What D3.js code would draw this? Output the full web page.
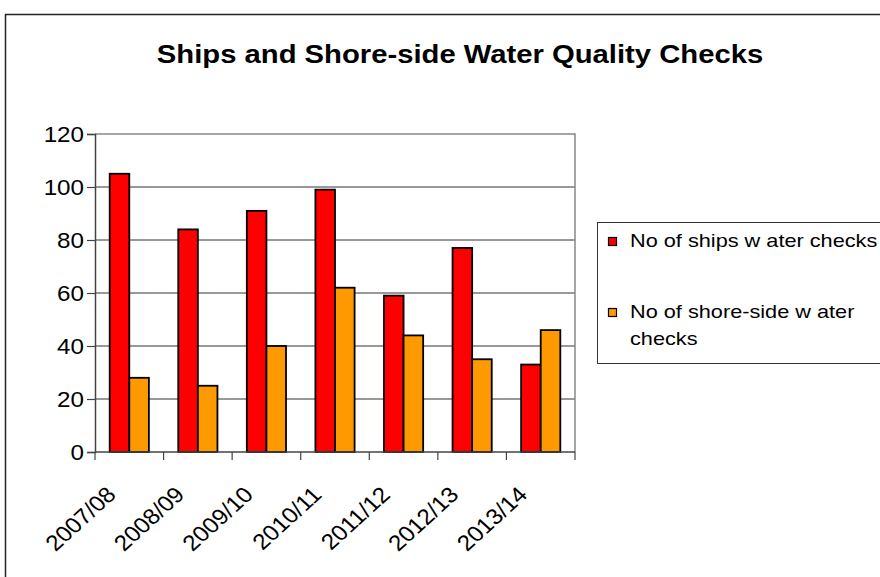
<!DOCTYPE html>
<html>
<head>
<meta charset="utf-8">
<script src="https://cdn.jsdelivr.net/npm/d3@7"></script>
<style>
  html, body { margin: 0; padding: 0; background: #fff; }
  svg { display: block; font-family: "Liberation Sans", Arial, sans-serif; }
</style>
</head>
<body>
<svg id="chart" width="880" height="577"></svg>
<script>
// Season labels and the two series of check counts
const seasons = ["2007/08", "2008/09", "2009/10", "2010/11", "2011/12", "2012/13", "2013/14"];
const shipChecks = [105, 84, 91, 99, 59, 77, 33];
const shoreChecks = [28, 25, 40, 62, 44, 35, 46];
const seriesNames = ["No of ships w ater checks", "No of shore-side w ater checks"];
const seriesColors = ["#FF0000", "#FF9900"];
const yTicks = [0, 20, 40, 60, 80, 100, 120];

const svg = d3.select("#chart");

// outer chart frame (runs off the right and bottom edges)
svg.append("rect")
  .attr("x", 5.5).attr("y", 14.5)
  .attr("width", 900).attr("height", 600)
  .attr("fill", "#fff").attr("stroke", "#222").attr("stroke-width", 1.5);

// title
svg.append("text")
  .attr("transform", "translate(460,63) scale(1.17,1)")
  .attr("text-anchor", "middle")
  .attr("font-size", 25).attr("font-weight", "bold")
  .text("Ships and Shore-side Water Quality Checks");

const plot = { left: 95, right: 575, top: 134, bottom: 452 };

const x = d3.scaleBand().domain(seasons).range([plot.left, plot.right]);
const y = d3.scaleLinear().domain([0, 120]).range([plot.bottom, plot.top]);

// bar width follows a 150% gap between groups
const barW = x.bandwidth() / 3.5;
const groupOffset = barW * 0.75;

// horizontal gridlines
svg.append("g")
  .selectAll("line")
  .data(yTicks.filter(t => t > 0 && t < 120))
  .join("line")
  .attr("x1", plot.left).attr("x2", plot.right)
  .attr("y1", d => y(d)).attr("y2", d => y(d))
  .attr("stroke", "#333").attr("stroke-width", 1);

// plot-area border: top and right in grey
svg.append("path")
  .attr("d", `M${plot.left},${plot.top}H${plot.right}V${plot.bottom}`)
  .attr("fill", "none").attr("stroke", "#888").attr("stroke-width", 1.5);

// bars
const data = seasons.map((s, i) => ({ s, vals: [shipChecks[i], shoreChecks[i]] }));
const groups = svg.append("g").selectAll("g")
  .data(data).join("g")
  .attr("transform", d => `translate(${x(d.s) + groupOffset},0)`);

groups.selectAll("rect")
  .data(d => d.vals.map((v, k) => ({ v, k })))
  .join("rect")
  .attr("x", d => d.k * barW)
  .attr("y", d => y(d.v))
  .attr("width", barW)
  .attr("height", d => y(0) - y(d.v))
  .attr("fill", d => seriesColors[d.k])
  .attr("stroke", "#000").attr("stroke-width", 1.8);

// y axis (labels drawn separately so they can be widened)
const yAxis = svg.append("g")
  .attr("transform", `translate(${plot.left},0)`)
  .call(d3.axisLeft(y).tickValues(yTicks).tickSize(8).tickFormat(""));
yAxis.select(".domain").attr("stroke", "#444").attr("stroke-width", 1.5);
yAxis.selectAll(".tick line").attr("stroke", "#444").attr("stroke-width", 1.2);

svg.append("g").selectAll("text")
  .data(yTicks).join("text")
  .attr("transform", d => `translate(84,${y(d)}) scale(1.1,1)`)
  .attr("text-anchor", "end")
  .attr("dy", "0.36em")
  .attr("font-size", 22)
  .text(d => d);

// x axis: ticks on category boundaries
const xAxisG = svg.append("g");
xAxisG.append("line")
  .attr("x1", plot.left).attr("x2", plot.right)
  .attr("y1", plot.bottom).attr("y2", plot.bottom)
  .attr("stroke", "#444").attr("stroke-width", 1.5);
const boundaries = seasons.map(s => x(s)).concat([plot.right]);
xAxisG.selectAll("line.tick")
  .data(boundaries).join("line")
  .attr("class", "tick")
  .attr("x1", d => d).attr("x2", d => d)
  .attr("y1", plot.bottom).attr("y2", plot.bottom + 8)
  .attr("stroke", "#444").attr("stroke-width", 1.2);

xAxisG.selectAll("text")
  .data(seasons).join("text")
  .attr("text-anchor", "end")
  .attr("font-size", 22)
  .attr("transform", d => `translate(${x(d) + x.bandwidth() / 2 - 12},${plot.bottom + 44}) scale(1.1,1) rotate(-45)`)
  .text(d => d);

// legend
const legend = svg.append("g");
legend.append("rect")
  .attr("x", 597.5).attr("y", 222.5)
  .attr("width", 400).attr("height", 141)
  .attr("fill", "#fff").attr("stroke", "#333").attr("stroke-width", 1);

const legendRows = [
  { lines: [seriesNames[0]], y: 247 },
  { lines: ["No of shore-side w ater", "checks"], y: 318 }
];
legendRows.forEach((row, i) => {
  legend.append("rect")
    .attr("x", 608.5).attr("y", row.y - 9.5)
    .attr("width", 8).attr("height", 8)
    .attr("fill", seriesColors[i]).attr("stroke", "#000").attr("stroke-width", 1.2);
  row.lines.forEach((ln, j) => {
    legend.append("text")
      .attr("transform", `translate(630,${row.y + j * 27}) scale(1.22,1)`)
      .attr("font-size", 17.8)
      .text(ln);
  });
});
</script>
</body>
</html>
